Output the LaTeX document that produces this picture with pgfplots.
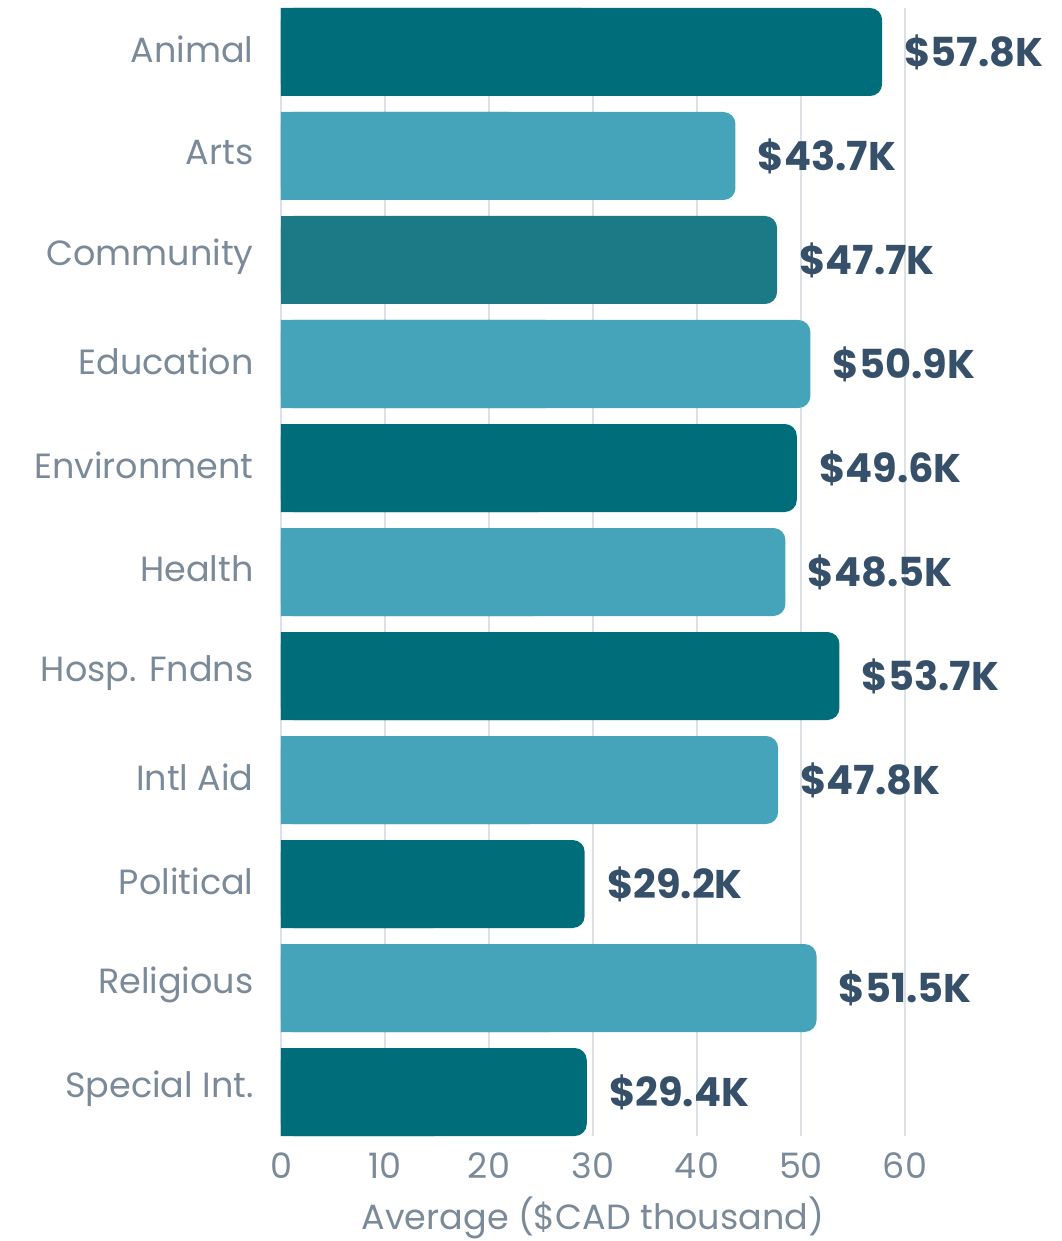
\documentclass[border=0pt]{standalone}
\usepackage{pgfplots}
\pgfplotsset{compat=1.18}
\usepackage{pgfplotstable}
\usepackage{fontspec}
\setmainfont{Poppins}

\definecolor{darkteal}{HTML}{006E7A}
\definecolor{lightteal}{HTML}{45A4B9}
\definecolor{midteal}{HTML}{1C7A86}
\definecolor{labelcol}{HTML}{36506A}
\definecolor{tickcol}{HTML}{7B8A99}
\definecolor{gridcol}{HTML}{DDE0E4}

% y = category position (0 = Animal ... 10 = Special Int.), v = average ($CAD thousand)
\pgfplotstableread{
y v
0 57.8
4 49.6
6 53.7
8 29.2
10 29.4
}\darkdata
\pgfplotstableread{
y v
1 43.7
3 50.9
5 48.5
7 47.8
9 51.5
}\lightdata
\pgfplotstableread{
y v
2 47.7
}\middata

\begin{document}
\begin{tikzpicture}
\path[use as bounding box] (-140.5pt,-52.5pt) rectangle (390pt,568pt);
\begin{axis}[
  at={(0,0)}, anchor=south west,
  scale only axis, width=390pt, height=564pt,
  xbar, bar width=44pt, bar shift=0pt,
  xmin=0, xmax=75, ymin=-0.423, ymax=10.423, y dir=reverse,
  axis line style={draw=none},
  major tick length=0pt,
  xtick={0,10,...,60},
  ytick={0,...,10},
  yticklabels={Animal,Arts,Community,Education,Environment,Health,Hosp. Fndns,Intl Aid,Political,Religious,Special Int.},
  xmajorgrids, grid style={gridcol, line width=0.6pt},
  /pgf/number format/assume math mode=true,
  tick label style={font=\fontsize{17.5}{20}\selectfont, text=tickcol},
  yticklabel style={anchor=east, inner sep=0pt, xshift=-13.5pt, yshift=1.5pt},
  xticklabel style={anchor=center, inner sep=0pt, yshift=-15pt},
  xlabel={Average (\$CAD thousand)},
  xlabel style={at={(axis description cs:0.4,0)}, anchor=center, yshift=-41pt,
    font=\fontsize{17.5}{20}\selectfont, text=tickcol},
  every node near coord/.append style={anchor=west, inner sep=0pt, xshift=11pt,
    font=\fontsize{20}{22}\selectfont\bfseries, text=labelcol},
]
\addplot[fill=darkteal, draw=none] table[x expr=\thisrow{v}/2, y=y] {\darkdata};
\addplot[fill=lightteal, draw=none] table[x expr=\thisrow{v}/2, y=y] {\lightdata};
\addplot[fill=midteal, draw=none] table[x expr=\thisrow{v}/2, y=y] {\middata};

\addplot[fill=darkteal, draw=none, rounded corners=6pt, point meta=x,
  nodes near coords={\$\pgfmathprintnumber[fixed,precision=1,fixed zerofill]{\pgfplotspointmeta}K}]
  table[x=v, y=y] {\darkdata};
\addplot[fill=lightteal, draw=none, rounded corners=6pt, point meta=x,
  nodes near coords={\$\pgfmathprintnumber[fixed,precision=1,fixed zerofill]{\pgfplotspointmeta}K}]
  table[x=v, y=y] {\lightdata};
\addplot[fill=midteal, draw=none, rounded corners=6pt, point meta=x,
  nodes near coords={\$\pgfmathprintnumber[fixed,precision=1,fixed zerofill]{\pgfplotspointmeta}K}]
  table[x=v, y=y] {\middata};
\end{axis}
\end{tikzpicture}
\end{document}
